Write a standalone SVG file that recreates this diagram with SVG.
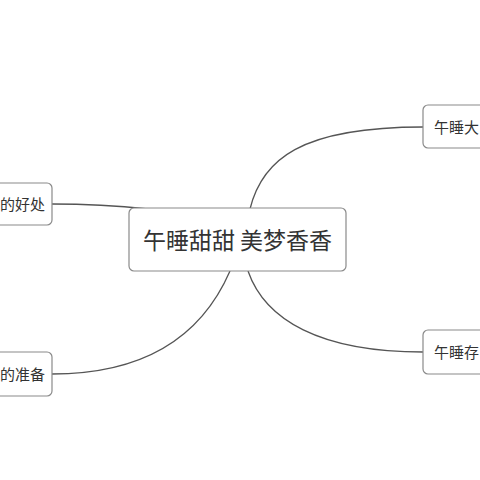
<svg xmlns="http://www.w3.org/2000/svg" width="480" height="480" viewBox="0 0 480 480">
<style>
.box{fill:#ffffff;stroke:#8a8a8a;stroke-width:1.2}
.lbl{font-family:"Noto Sans CJK SC","Noto Sans",sans-serif;fill:#333333}
.ln{fill:none;stroke:#555555;stroke-width:1.3}
</style>
<rect width="480" height="480" fill="#ffffff"/>
<g id="connectors">
<path class="ln" d="M52,204 C90,204 120,206 148,209"/>
<path class="ln" d="M250,209 C262,160 300,127 423,127"/>
<path class="ln" d="M230,271 C200,340 140,374 52,374"/>
<path class="ln" d="M248,271 C265,320 320,352 423,352"/>
</g>
<g id="center">
<rect class="box" x="129" y="208" width="217" height="63" rx="5"/>
<text class="lbl" x="237.5" y="248.5" font-size="23" text-anchor="middle">午睡甜甜 美梦香香</text>
</g>
<g id="left-top">
<rect class="box" x="-10" y="183" width="62" height="42" rx="5"/>
<text class="lbl" x="45" y="209.5" font-size="15" text-anchor="end">的好处</text>
</g>
<g id="left-bottom">
<rect class="box" x="-10" y="352" width="62" height="44" rx="5"/>
<text class="lbl" x="45" y="379.5" font-size="15" text-anchor="end">的准备</text>
</g>
<g id="right-top">
<rect class="box" x="423" y="105" width="70" height="43" rx="5"/>
<text class="lbl" x="434" y="132.5" font-size="15">午睡大</text>
</g>
<g id="right-bottom">
<rect class="box" x="423" y="330" width="70" height="44" rx="5"/>
<text class="lbl" x="434" y="357.5" font-size="15">午睡存</text>
</g>
</svg>
